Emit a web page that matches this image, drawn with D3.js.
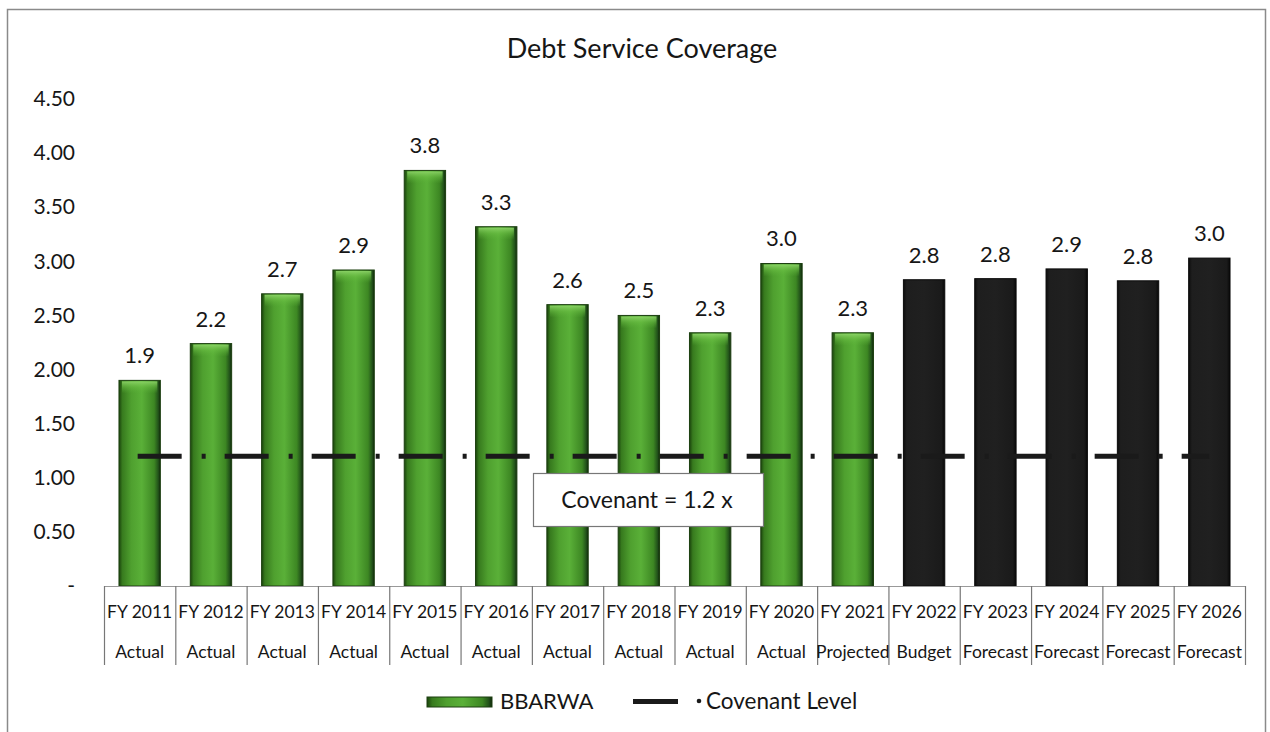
<!DOCTYPE html>
<html><head><meta charset="utf-8">
<script src="https://cdn.jsdelivr.net/npm/d3@7"></script>
<style>body{margin:0;background:#fff}svg{display:block}text{font-family:Lato,"Open Sans",sans-serif;fill:#161616}</style>
</head><body><svg id="c" width="1270" height="732"></svg>
<script>
const years = ["FY 2011","FY 2012","FY 2013","FY 2014","FY 2015","FY 2016","FY 2017","FY 2018","FY 2019","FY 2020","FY 2021","FY 2022","FY 2023","FY 2024","FY 2025","FY 2026"];
const stages = ["Actual","Actual","Actual","Actual","Actual","Actual","Actual","Actual","Actual","Actual","Projected","Budget","Forecast","Forecast","Forecast","Forecast"];
const coverage = [1.90,2.24,2.70,2.92,3.84,3.32,2.60,2.50,2.34,2.98,2.34,2.83,2.84,2.93,2.82,3.03];
const covenant = 1.2;
const yTicks = [0,0.5,1,1.5,2,2.5,3,3.5,4,4.5];
const title = "Debt Service Coverage";
const seriesNames = ["BBARWA","Covenant Level"];
const covenantNote = "Covenant = 1.2 x";

const svg = d3.select("#c");
const pL = 104, pR = 1245, pT = 99, pB = 586;
const x = d3.scaleBand().domain(years).range([pL,pR]).paddingInner(0.42).paddingOuter(0.21);
const y = d3.scaleLinear().domain([0,4.5]).range([pB,pT]);

// frame
svg.append("rect").attr("x",7.5).attr("y",9.5).attr("width",1258).attr("height",760)
  .attr("fill","none").attr("stroke","#8a8a8a").attr("stroke-width",1.5);

// defs
const defs = svg.append("defs");
const g1 = defs.append("linearGradient").attr("id","gGreen").attr("x1","0").attr("x2","1").attr("y1","0").attr("y2","0");
[[0,"#1a430c"],[0.08,"#377a1e"],[0.3,"#4fa02f"],[0.55,"#5ab038"],[0.85,"#3d8723"],[0.95,"#22521a"],[1,"#0f260a"]]
  .forEach(([o,c])=>g1.append("stop").attr("offset",o).attr("stop-color",c));
const g2 = defs.append("linearGradient").attr("id","gBlack").attr("x1","0").attr("x2","1");
[[0,"#0c0c0c"],[0.08,"#1e1e1e"],[0.5,"#202020"],[0.92,"#1a1a1a"],[1,"#080808"]]
  .forEach(([o,c])=>g2.append("stop").attr("offset",o).attr("stop-color",c));
const cap = defs.append("linearGradient").attr("id","gCap").attr("x1","0").attr("x2","0").attr("y1","0").attr("y2","1");
[[0,"#8fd66a",0.9],[0.5,"#6cc045",0.5],[1,"#5cb239",0]]
  .forEach(([o,c,a])=>cap.append("stop").attr("offset",o).attr("stop-color",c).attr("stop-opacity",a));

// y axis
const ya = svg.append("g").attr("transform",`translate(${pL-29},0)`)
  .call(d3.axisLeft(y).tickValues(yTicks).tickSize(0).tickFormat(d=>d===0?"-":d3.format(".2f")(d)));
ya.select(".domain").remove();
ya.selectAll("text").style("font-family","Lato, sans-serif").style("font-size","21px").attr("fill","#161616").attr("x",0);

// title
svg.append("text").attr("x",642).attr("y",58).attr("text-anchor","middle").style("font-size","27px").text(title);

// bars
const data = years.map((yr,i)=>({yr,v:coverage[i],stage:stages[i],fc:i>=11}));
const bars = svg.append("g");
bars.selectAll("rect.bar").data(data).join("rect").attr("class","bar")
  .attr("x",d=>x(d.yr)).attr("width",x.bandwidth())
  .attr("y",d=>y(d.v)).attr("height",d=>y(0)-y(d.v))
  .attr("fill",d=>d.fc?"url(#gBlack)":"url(#gGreen)")
  .attr("stroke",d=>d.fc?"#0a0a0a":"#1c3f10").attr("stroke-width",1);
bars.selectAll("rect.cap").data(data.filter(d=>!d.fc)).join("rect").attr("class","cap")
  .attr("x",d=>x(d.yr)+3).attr("width",x.bandwidth()-6)
  .attr("y",d=>y(d.v)+1).attr("height",12).attr("fill","url(#gCap)");

// value labels
svg.append("g").selectAll("text").data(data).join("text")
  .attr("x",d=>x(d.yr)+x.bandwidth()/2).attr("y",d=>y(d.v)-17)
  .attr("text-anchor","middle").style("font-size","22px").text(d=>d3.format(".1f")(d.v));

// covenant line
const cx0 = x(years[0])+x.bandwidth()/2, cx1 = x(years[years.length-1])+x.bandwidth()/2;
svg.append("line").attr("x1",cx0-2).attr("x2",cx1).attr("y1",y(covenant)).attr("y2",y(covenant))
  .attr("stroke","#1a1a1a").attr("stroke-width",5).attr("stroke-dasharray","44,20,4,19");

// covenant box
svg.append("rect").attr("x",533.5).attr("y",473.5).attr("width",230).attr("height",53)
  .attr("fill","#fff").attr("stroke","#777").attr("stroke-width",1.2);
svg.append("text").attr("x",647).attr("y",508).attr("text-anchor","middle").style("font-size","23px").text(covenantNote);

// x axis table
const step = x.step();
const xa = svg.append("g");
xa.append("line").attr("x1",pL).attr("x2",pR).attr("y1",pB+0.5).attr("y2",pB+0.5).attr("stroke","#999");
xa.selectAll("line.b").data(d3.range(years.length+1)).join("line").attr("class","b")
  .attr("x1",i=>pL+i*step+0.5).attr("x2",i=>pL+i*step+0.5).attr("y1",pB).attr("y2",665)
  .attr("stroke","#777").attr("stroke-width",1.2);
xa.selectAll("text.yr").data(data).join("text").attr("class","yr")
  .attr("x",d=>x(d.yr)+x.bandwidth()/2).attr("y",618).attr("text-anchor","middle").style("font-size","17.5px").text(d=>d.yr);
xa.selectAll("text.st").data(data).join("text").attr("class","st")
  .attr("x",d=>x(d.yr)+x.bandwidth()/2).attr("y",658).attr("text-anchor","middle").style("font-size","17.5px").text(d=>d.stage);

// legend
const lg = svg.append("g");
lg.append("rect").attr("x",427).attr("y",697).attr("width",65).attr("height",10).attr("fill","url(#gGreen)").attr("stroke","#1c3f10");
lg.append("text").attr("x",500).attr("y",709).style("font-size","22px").text(seriesNames[0]);
lg.append("line").attr("x1",633).attr("x2",678).attr("y1",701.5).attr("y2",701.5).attr("stroke","#1a1a1a").attr("stroke-width",5);
lg.append("circle").attr("cx",699).attr("cy",701).attr("r",2.3).attr("fill","#1a1a1a");
lg.append("text").attr("x",706).attr("y",709).style("font-size","22.5px").text(seriesNames[1]);
</script></body></html>
